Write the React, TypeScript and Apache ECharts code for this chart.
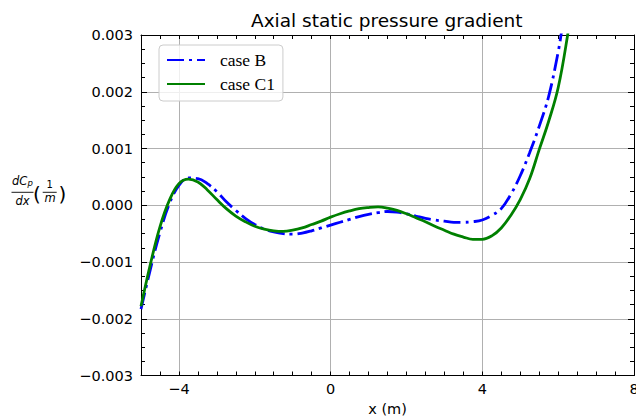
import React, { useEffect, useRef } from "react";
import * as echarts from "echarts";

// ---- data ----
const caseBX = [-5.0, -4.75, -4.5, -4.25, -4.0, -3.75, -3.5, -3.25, -3.0, -2.75, -2.5, -2.25, -2.0, -1.75, -1.5, -1.25, -1.0, -0.75, -0.5, -0.25, 0.0, 0.25, 0.5, 0.75, 1.0, 1.25, 1.5, 1.75, 2.0, 2.25, 2.5, 2.75, 3.0, 3.25, 3.5, 3.75, 4.0, 4.25, 4.5, 4.75, 5.0, 5.25, 5.5, 5.75, 6.0, 6.1, 6.2];
const caseBY = [-0.00183, -0.00112, -0.00048, 0.00003, 0.00035, 0.00048, 0.00047, 0.00038, 0.00024, 0.00006, -0.00009, -0.00023, -0.00034, -0.00042, -0.00047, -0.0005, -0.00051, -0.00049, -0.00045, -0.0004, -0.00035, -0.0003, -0.00025, -0.0002, -0.00016, -0.00013, -0.00011, -0.00012, -0.00015, -0.00019, -0.00023, -0.00026, -0.00028, -0.0003, -0.0003, -0.00029, -0.00026, -0.00018, -0.00006, 0.00019, 0.00052, 0.00093, 0.00139, 0.00192, 0.0027, 0.0031, 0.0035];

const caseC1X = [-5.0, -4.75, -4.5, -4.25, -4.0, -3.75, -3.5, -3.25, -3.0, -2.75, -2.5, -2.25, -2.0, -1.75, -1.5, -1.25, -1.0, -0.75, -0.5, -0.25, 0.0, 0.25, 0.5, 0.75, 1.0, 1.25, 1.5, 1.75, 2.0, 2.25, 2.5, 2.75, 3.0, 3.25, 3.5, 3.75, 4.0, 4.25, 4.5, 4.75, 5.0, 5.25, 5.5, 5.75, 6.0, 6.25, 6.35];
const caseC1Y = [-0.00178, -0.00103, -0.00038, 0.00009, 0.00038, 0.00046, 0.00041, 0.00027, 0.0001, -0.00006, -0.00019, -0.00029, -0.00037, -0.00042, -0.00045, -0.00046, -0.00044, -0.0004, -0.00034, -0.00028, -0.00021, -0.00015, -0.0001, -0.00006, -0.00004, -0.00003, -0.00005, -0.00009, -0.00015, -0.00022, -0.00029, -0.00037, -0.00044, -0.00051, -0.00056, -0.0006, -0.0006, -0.00054, -0.0004, -0.00018, 0.0001, 0.00047, 0.00098, 0.00148, 0.00207, 0.003, 0.0035];

const seriesNames = ["case B", "case C1"];
const xMin = -5;
const xMax = 8;
const xMajorStep = 4;
const yMin = -0.003;
const yMax = 0.003;
const yStep = 0.001;

const titleText = "Axial static pressure gradient";
const xName = "x (m)";

const fmtMinus = (s: string) => s.replace("-", "\u2212");

export default function App() {
  const ref = useRef<HTMLDivElement>(null);
  useEffect(() => {
    if (!ref.current) return;
    const chart = echarts.init(ref.current, undefined, { renderer: "svg" });
    const sans = "DejaVu Sans";
    const dataB = caseBX.map((x, i) => [x, caseBY[i]]);
    const dataC = caseC1X.map((x, i) => [x, caseC1Y[i]]);
    const gridCol = "#b0b0b0";
    const splitColors = ["transparent", "transparent", gridCol, "transparent", "transparent", "transparent", "transparent", "transparent"];

    const xAxisBase = {
      type: "value",
      min: xMin,
      max: xMax,
      interval: 0.5,
      axisLine: { show: true, onZero: false, lineStyle: { color: "#000", width: 1 } },
      axisTick: { show: true, inside: true, length: 4, lineStyle: { color: "#000" } },
    };
    const yAxisBase = {
      type: "value",
      min: yMin,
      max: yMax,
      interval: yStep,
      axisLine: { show: true, onZero: false, lineStyle: { color: "#000", width: 1 } },
      axisTick: { show: true, inside: true, length: 6, lineStyle: { color: "#000" } },
      minorTick: { show: true, splitNumber: 4, length: 4, lineStyle: { color: "#000" } },
    };

    const italic = { fontFamily: sans, fontStyle: "italic", fill: "#000" };
    const normal = { fontFamily: sans, fill: "#000" };

    chart.setOption({
      animation: false,
      title: {
        text: titleText,
        left: 251,
        top: 11,
        padding: 0,
        textStyle: { fontFamily: sans, fontSize: 18.5, fontWeight: "normal", color: "#000" },
      },
      legend: {
        data: seriesNames,
        orient: "vertical",
        left: 159,
        top: 45,
        padding: [6, 8, 8, 7],
        itemWidth: 38,
        itemHeight: 18,
        itemGap: 6,
        itemStyle: { opacity: 0 },
        backgroundColor: "rgba(255,255,255,0.8)",
        borderColor: "#cccccc",
        borderWidth: 1,
        borderRadius: 4,
        textStyle: { fontFamily: "Liberation Serif", fontSize: 17.5, color: "#000", padding: [0, 0, 0, 10] },
      },
      grid: { left: 141, right: 2, top: 35, bottom: 42.5, containLabel: false, outerBoundsMode: "none" },
      xAxis: [
        {
          ...xAxisBase,
          position: "bottom",
          name: xName,
          nameLocation: "middle",
          nameGap: 22,
          nameTextStyle: { fontFamily: sans, fontSize: 14.5, color: "#000" },
          axisLabel: {
            show: true,
            margin: 6,
            fontFamily: sans,
            fontSize: 14.5,
            color: "#000",
            formatter: (v: number) => (Math.abs(v / xMajorStep - Math.round(v / xMajorStep)) < 1e-9 ? fmtMinus(String(Math.round(v))) : ""),
          },
          splitLine: { show: true, lineStyle: { color: splitColors, width: 1 } },
        },
        {
          ...xAxisBase,
          position: "top",
          axisLabel: { show: false },
          splitLine: { show: false },
        },
      ],
      yAxis: [
        {
          ...yAxisBase,
          position: "left",
          axisLabel: {
            show: true,
            margin: 8,
            fontFamily: sans,
            fontSize: 14.5,
            color: "#000",
            formatter: (v: number) => (Math.abs(v) < 1e-12 ? "0.000" : fmtMinus(v.toFixed(3))),
          },
          splitLine: { show: true, lineStyle: { color: gridCol, width: 1 } },
        },
        {
          ...yAxisBase,
          position: "right",
          axisLabel: { show: false },
          splitLine: { show: false },
        },
      ],
      series: [
        {
          name: seriesNames[0],
          type: "line",
          data: dataB,
          smooth: 0.4,
          symbol: "none",
          clip: true,
          z: 3,
          lineStyle: { color: "#0000ff", width: 2.8, type: [17, 5, 3, 5] },
          itemStyle: { color: "#0000ff" },
        },
        {
          name: seriesNames[1],
          type: "line",
          data: dataC,
          smooth: 0.4,
          symbol: "none",
          clip: true,
          z: 4,
          lineStyle: { color: "#008000", width: 2.8, type: "solid" },
          itemStyle: { color: "#008000" },
        },
      ],
      graphic: [
        { type: "text", style: { ...italic, text: "dC", x: 12, y: 181, fontSize: 11.5, align: "left", verticalAlign: "middle" } },
        { type: "text", style: { ...italic, text: "p", x: 27.5, y: 183, fontSize: 8.5, align: "left", verticalAlign: "middle" } },
        { type: "line", shape: { x1: 11.5, y1: 192.3, x2: 33.5, y2: 192.3 }, style: { stroke: "#000", lineWidth: 0.9 } },
        { type: "text", style: { ...italic, text: "dx", x: 22.5, y: 200.5, fontSize: 11.5, align: "center", verticalAlign: "middle" } },
        { type: "text", style: { ...normal, text: "(", x: 36.8, y: 193.5, fontSize: 20, align: "center", verticalAlign: "middle" } },
        { type: "text", style: { ...normal, text: "1", x: 49.7, y: 184.8, fontSize: 10, align: "center", verticalAlign: "middle" } },
        { type: "line", shape: { x1: 42.7, y1: 192.3, x2: 56.7, y2: 192.3 }, style: { stroke: "#000", lineWidth: 0.9 } },
        { type: "text", style: { ...italic, text: "m", x: 50, y: 197.5, fontSize: 11.5, align: "center", verticalAlign: "middle" } },
        { type: "text", style: { ...normal, text: ")", x: 62.5, y: 193.5, fontSize: 20, align: "center", verticalAlign: "middle" } },
      ],
    });
    return () => chart.dispose();
  }, []);
  return <div ref={ref} style={{ position: "absolute", left: 0, top: 0, width: 636, height: 418 }} />;
}
